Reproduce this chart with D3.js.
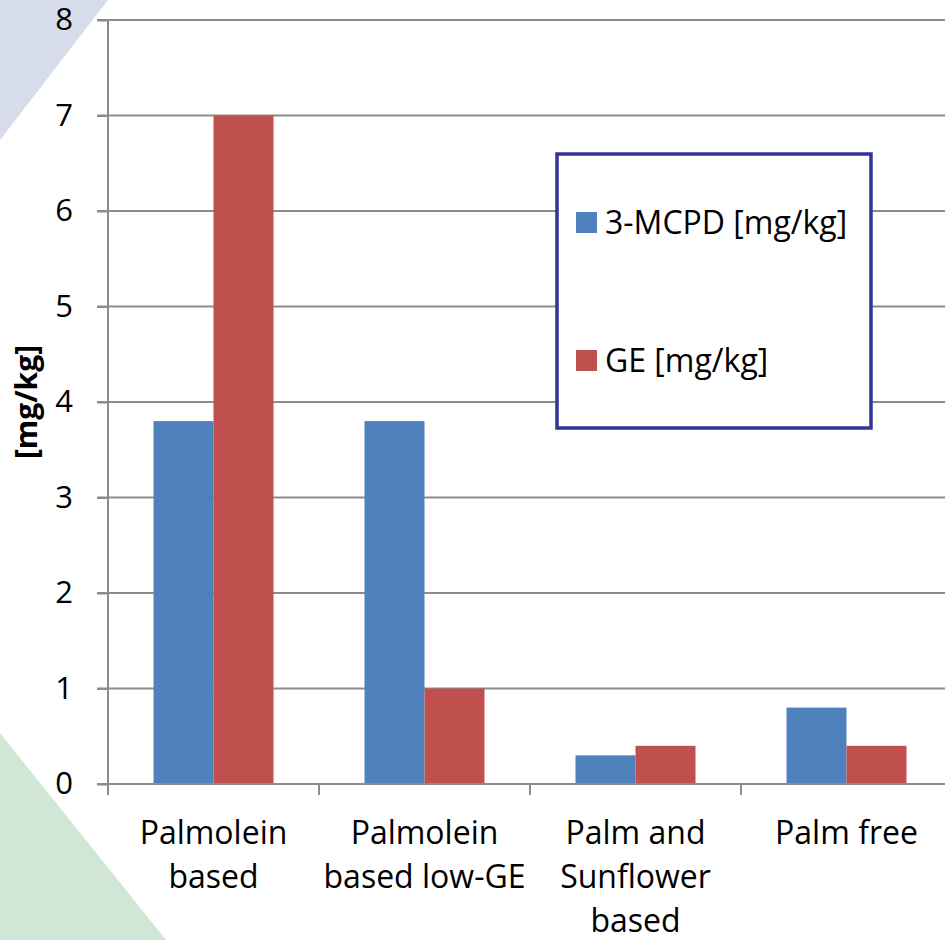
<!DOCTYPE html>
<html>
<head>
<meta charset="utf-8">
<script src="https://cdn.jsdelivr.net/npm/d3@7"></script>
<style>
  body { margin: 0; background: #fff; }
  svg text { font-family: "Open Sans", Lato, sans-serif; fill: #000; }
</style>
</head>
<body>
<div id="chart-container"></div>
<script>
const categories = ['Palmolein\nbased', 'Palmolein\nbased low-GE', 'Palm and\nSunflower\nbased', 'Palm free']
const mcpd = [3.8, 3.8, 0.3, 0.8]
const ge = [7.0, 1.0, 0.4, 0.4]
const seriesNames = ['3-MCPD [mg/kg]', 'GE [mg/kg]']
const colors = ['#4f81bd', '#c0504d']
const yTicks = [0, 1, 2, 3, 4, 5, 6, 7, 8]

function draw () {
  const width = 945
  const height = 940
  const left = 108
  const top = 20
  const bottom = 784
  const plotRight = 952

  const svg = d3.select('#chart-container')
    .append('svg')
    .attr('width', width)
    .attr('height', height)

  // background decorations
  svg.append('path')
    .attr('d', 'M0,0 L108,0 L0,140 Z')
    .attr('fill', '#d6dce9')
  svg.append('path')
    .attr('d', 'M0,733 L166,940 L0,940 Z')
    .attr('fill', '#d0e7d6')

  const xScale = d3.scaleBand()
    .domain(categories)
    .range([left, plotRight])

  const yScale = d3.scaleLinear()
    .domain([0, 8])
    .range([bottom, top])

  const barW = 60

  // gridlines
  svg.append('g')
    .selectAll('line')
    .data(yTicks.filter(d => d > 0))
    .enter()
    .append('line')
    .attr('x1', left - 11)
    .attr('x2', width)
    .attr('y1', d => yScale(d))
    .attr('y2', d => yScale(d))
    .attr('stroke', '#8c8c8c')
    .attr('stroke-width', 2)

  // bars
  const groups = [mcpd, ge]
  groups.forEach((vals, si) => {
    svg.append('g')
      .selectAll('rect')
      .data(vals)
      .enter()
      .append('rect')
      .attr('x', (d, i) => xScale(categories[i]) + xScale.bandwidth() / 2 - barW + si * barW)
      .attr('y', d => yScale(d))
      .attr('width', barW)
      .attr('height', d => yScale(0) - yScale(d))
      .attr('fill', colors[si])
  })

  // y axis
  const yAxis = svg.append('g')
    .attr('transform', `translate(${left},0)`)
    .call(d3.axisLeft(yScale).tickValues(yTicks).tickSize(11).tickPadding(24))
  yAxis.select('.domain').remove()
  yAxis.append('line')
    .attr('x1', 0).attr('x2', 0)
    .attr('y1', top).attr('y2', bottom + 11)
    .attr('stroke', '#8c8c8c').attr('stroke-width', 2)
  yAxis.selectAll('.tick line').attr('stroke', '#8c8c8c').attr('stroke-width', 2)
  yAxis.selectAll('.tick text')
    .style('font-size', '31px')
    .style('font-family', '"Open Sans", sans-serif')
    .attr('fill', '#000')

  // x axis
  const xAxis = svg.append('g')
    .attr('transform', `translate(0,${bottom})`)
  xAxis.append('line')
    .attr('x1', left - 11).attr('x2', width)
    .attr('y1', 0).attr('y2', 0)
    .attr('stroke', '#8c8c8c').attr('stroke-width', 2)
  xAxis.selectAll('.xtick')
    .data(categories.map(c => xScale(c)).concat([plotRight]))
    .enter()
    .append('line')
    .attr('x1', d => d).attr('x2', d => d)
    .attr('y1', 0).attr('y2', 11)
    .attr('stroke', '#8c8c8c').attr('stroke-width', 2)

  const labels = xAxis.selectAll('.xlabel')
    .data(categories)
    .enter()
    .append('text')
    .attr('text-anchor', 'middle')
    .style('font-size', '32px')
  labels.each(function (d) {
    const t = d3.select(this)
    d.split('\n').forEach((line, i) => {
      t.append('tspan')
        .attr('x', xScale(d) + xScale.bandwidth() / 2)
        .attr('y', 60 + i * 44)
        .text(line)
    })
  })

  // y axis title
  svg.append('text')
    .attr('transform', 'translate(37,402) rotate(-90)')
    .attr('text-anchor', 'middle')
    .style('font-size', '30px')
    .style('font-weight', 'bold')
    .text('[mg/kg]')

  // legend
  const legend = svg.append('g')
  legend.append('rect')
    .attr('x', 557).attr('y', 154)
    .attr('width', 314).attr('height', 274)
    .attr('fill', '#fff')
    .attr('stroke', '#333399')
    .attr('stroke-width', 3.5)
  const legendY = [223, 361]
  seriesNames.forEach((name, i) => {
    legend.append('rect')
      .attr('x', 576).attr('y', legendY[i] - 11)
      .attr('width', 21).attr('height', 21)
      .attr('fill', colors[i])
    legend.append('text')
      .attr('x', 605).attr('y', legendY[i] + 11)
      .style('font-size', '32px')
      .text(name)
  })
}

draw()
</script>
</body>
</html>
